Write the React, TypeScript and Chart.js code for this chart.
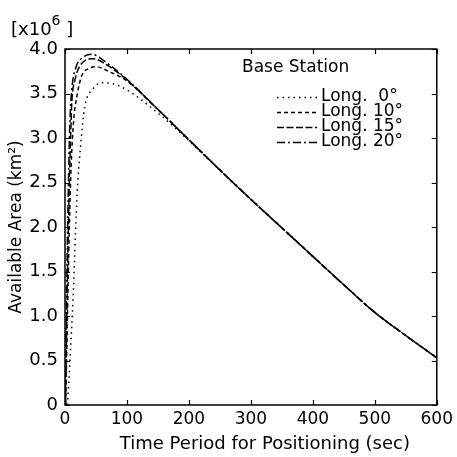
import React, { useEffect, useRef } from 'react';
import { Chart, registerables } from 'chart.js';

Chart.register(...registerables);

// Time period (sec) and available area (x10^6 km^2) for each base-station longitude
const long0Times = [4, 8, 13, 19, 25, 32, 45, 60, 77, 100, 150, 200, 250, 300, 350, 400, 450, 500, 550, 600];
const long0Values = [0, 0.5, 1.2, 2.3, 2.9, 3.35, 3.55, 3.62, 3.61, 3.54, 3.28, 2.97, 2.64, 2.31, 1.99, 1.67, 1.35, 1.04, 0.78, 0.53];

const long10Times = [1, 4, 7, 10, 14, 19, 27, 38, 51, 70, 100, 150, 200, 250, 300, 350, 400, 450, 500, 550, 600];
const long10Values = [0, 1.0, 2.0, 2.7, 3.2, 3.46, 3.7, 3.78, 3.8, 3.75, 3.64, 3.32, 2.98, 2.64, 2.31, 1.99, 1.67, 1.35, 1.04, 0.78, 0.53];

const long15Times = [1, 3, 6, 9, 11, 16, 25, 45, 70, 100, 150, 200, 250, 300, 350, 400, 450, 500, 550, 600];
const long15Values = [0, 1.0, 2.2, 3.0, 3.4, 3.65, 3.82, 3.89, 3.81, 3.65, 3.32, 2.98, 2.64, 2.31, 1.99, 1.67, 1.35, 1.04, 0.78, 0.53];

const long20Times = [0, 2, 5, 8, 11, 18, 28, 43, 70, 100, 150, 200, 250, 300, 350, 400, 450, 500, 550, 600];
const long20Values = [0, 1.0, 2.3, 3.2, 3.55, 3.8, 3.9, 3.94, 3.83, 3.66, 3.32, 2.98, 2.64, 2.31, 1.99, 1.67, 1.35, 1.04, 0.78, 0.53];

const seriesLabels = ['Long.  0°', 'Long. 10°', 'Long. 15°', 'Long. 20°'];
const legendTitle = 'Base Station';
const xTitle = 'Time Period for Positioning (sec)';
const yTitle = 'Available Area (km²)';

const FONT = '"DejaVu Sans", sans-serif';

function toPoints(t: number[], v: number[]) {
  return t.map((x, i) => ({ x, y: v[i] }));
}

const framePlugin = {
  id: 'frameAndLegend',
  afterDraw(chart: any) {
    const { ctx, chartArea } = chart;
    const { left, right, top, bottom } = chartArea;
    const xs = chart.scales.x;
    const ys = chart.scales.y;
    ctx.save();
    ctx.strokeStyle = '#000';
    ctx.lineWidth = 1.5;
    ctx.setLineDash([]);
    ctx.strokeRect(left, top, right - left, bottom - top);
    ctx.lineWidth = 1.2;
    const tl = 5;
    xs.ticks.forEach((t: any) => {
      const px = Math.round(xs.getPixelForValue(t.value)) + 0.5;
      ctx.beginPath();
      ctx.moveTo(px, bottom);
      ctx.lineTo(px, bottom - tl);
      ctx.moveTo(px, top);
      ctx.lineTo(px, top + tl);
      ctx.stroke();
    });
    ys.ticks.forEach((t: any) => {
      const py = Math.round(ys.getPixelForValue(t.value)) + 0.5;
      ctx.beginPath();
      ctx.moveTo(left, py);
      ctx.lineTo(left + tl, py);
      ctx.moveTo(right, py);
      ctx.lineTo(right - tl, py);
      ctx.stroke();
    });

    ctx.fillStyle = '#000';

    // x axis title (offset slightly right as in the original)
    ctx.font = `18px ${FONT}`;
    ctx.textAlign = 'center';
    ctx.textBaseline = 'middle';
    ctx.fillText(xTitle, (left + right) / 2 + 14, 444);

    // multiplier label
    ctx.textBaseline = 'alphabetic';
    ctx.textAlign = 'left';
    ctx.font = `18px ${FONT}`;
    ctx.fillText('[x10', 11, 35);
    const w1 = ctx.measureText('[x10').width;
    ctx.font = `14px ${FONT}`;
    ctx.fillText('6', 11 + w1, 25);
    const w2 = ctx.measureText('6').width;
    ctx.font = `18px ${FONT}`;
    ctx.fillText(' ]', 11 + w1 + w2, 35);

    // legend
    ctx.font = `17px ${FONT}`;
    ctx.textBaseline = 'middle';
    ctx.fillText(legendTitle, 242, 68);
    chart.data.datasets.forEach((ds: any, i: number) => {
      const y = 97 + i * 15;
      ctx.lineWidth = 1.3;
      ctx.setLineDash(ds.borderDash || []);
      ctx.beginPath();
      ctx.moveTo(277, y + 0.5);
      ctx.lineTo(317, y + 0.5);
      ctx.stroke();
      ctx.setLineDash([]);
      ctx.fillText(ds.label, 321, y);
    });
    ctx.restore();
  },
};

export default function App() {
  const ref = useRef<HTMLCanvasElement | null>(null);
  useEffect(() => {
    if (!ref.current) return;
    const common = {
      borderColor: '#000',
      borderWidth: 1.5,
      pointRadius: 0,
      fill: false,
      cubicInterpolationMode: 'monotone' as const,
    };
    const chart = new Chart(ref.current, {
      type: 'line',
      data: {
        datasets: [
          { ...common, label: seriesLabels[0], data: toPoints(long0Times, long0Values), borderDash: [1.5, 4] },
          { ...common, label: seriesLabels[1], data: toPoints(long10Times, long10Values), borderDash: [4, 3] },
          { ...common, label: seriesLabels[2], data: toPoints(long15Times, long15Values), borderDash: [7, 2.5] },
          { ...common, label: seriesLabels[3], data: toPoints(long20Times, long20Values), borderDash: [8, 3, 2, 3] },
        ],
      },
      options: {
        animation: false,
        responsive: false,
        maintainAspectRatio: false,
        layout: { padding: { top: 49, right: 19, left: 0, bottom: 0 } },
        plugins: { legend: { display: false }, tooltip: { enabled: false } },
        scales: {
          x: {
            type: 'linear',
            min: 0,
            max: 600,
            border: { display: false },
            grid: { display: false, drawTicks: false },
            ticks: { stepSize: 100, color: '#000', font: { family: FONT, size: 17 }, padding: 4, maxRotation: 0 },
            title: { display: false, text: xTitle },
            afterFit: (s: any) => { s.height = 52; },
          },
          y: {
            type: 'linear',
            min: 0,
            max: 4,
            border: { display: false },
            grid: { display: false, drawTicks: false },
            ticks: {
              stepSize: 0.5,
              color: '#000',
              font: { family: FONT, size: 18 },
              padding: 7,
              callback: (v: any) => (v === 0 ? '0' : Number(v).toFixed(1)),
            },
            title: { display: true, text: yTitle, color: '#000', font: { family: FONT, size: 17 }, padding: { top: 6, bottom: 0 } },
            afterFit: (s: any) => { s.width = 65; },
          },
        },
      },
      plugins: [framePlugin],
    });
    return () => chart.destroy();
  }, []);
  return (
    <div style={{ position: 'fixed', left: 0, top: 0, width: 457, height: 457, background: '#fff' }}>
      <canvas ref={ref} width={457} height={457} style={{ display: 'block' }} />
    </div>
  );
}
